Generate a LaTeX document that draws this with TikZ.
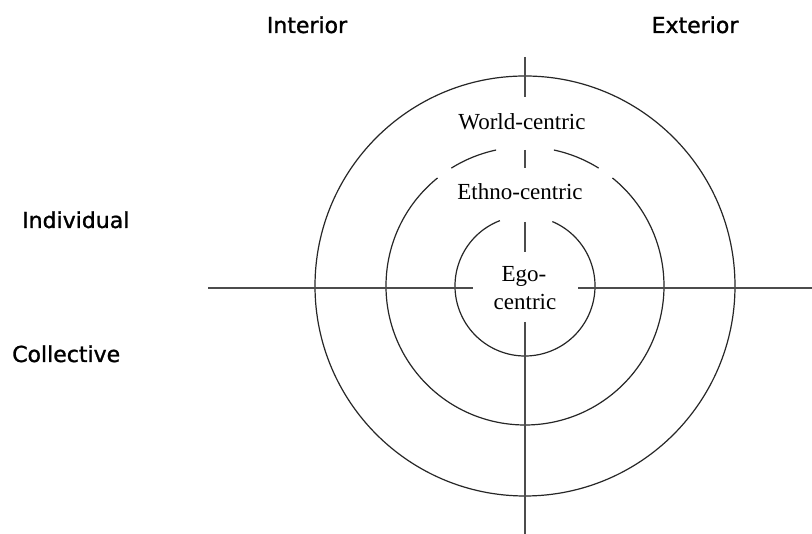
\documentclass[tikz,border=0pt]{standalone}
\usepackage{fontspec}
\setmainfont{Liberation Serif}
\newfontfamily\labelfont[FakeBold=1.2]{DejaVu Sans}
\tikzset{
  ring/.style={draw=black!85, line width=1.2pt},
  axis/.style={draw=black!70, line width=1.2pt},
  serifl/.style={font=\fontsize{23}{26}\selectfont, inner sep=0pt, anchor=base},
  sansl/.style={font=\labelfont\fontsize{22}{26}\selectfont, inner sep=0pt},
}
\begin{document}
\begin{tikzpicture}[x=1pt,y=1pt]
\useasboundingbox (0,0) rectangle (812,534);
\fill[white] (0,0) rectangle (812,534);
\coordinate (c) at (525,248);
% outer circle
\draw[ring] (c) circle[radius=210pt];
% middle circle with gaps at the top
\draw[ring] ([shift={(129:139pt)}]c) arc[start angle=129, end angle=411, radius=139pt];
\draw[ring] ([shift={(58:139pt)}]c) arc[start angle=58, end angle=78, radius=139pt];
\draw[ring] ([shift={(102:139pt)}]c) arc[start angle=102, end angle=122, radius=139pt];
% inner circle with gap at the top
\draw[ring] ([shift={(111:70pt)}]c) arc[start angle=111, end angle=427, radius=70pt];
% axes
\coordinate (v0) at (525,477);
\coordinate (v1) at (525,437);
\coordinate (v2) at (525,384);
\coordinate (v3) at (525,366);
\coordinate (v4) at (525,312);
\coordinate (v5) at (525,282);
\coordinate (v6) at (525,212);
\coordinate (v7) at (525,0);
\draw[axis] (v0) -- (v1);
\draw[axis] (v2) -- (v3);
\draw[axis] (v4) -- (v5);
\draw[axis] (v6) -- (v7);
\coordinate (h0) at (208,246);
\coordinate (h1) at (473,246);
\coordinate (h2) at (578,246);
\coordinate (h3) at (812,246);
\draw[axis] (h0) -- (h1);
\draw[axis] (h2) -- (h3);
% circle labels
\node[serifl] (world) at (522,404) {World-centric};
\node[serifl] (ethno) at (520,334) {Ethno-centric};
\node[serifl] (ego) at (524,252) {Ego-};
\node[serifl] (centric) at (525,224) {centric};
% quadrant labels
\node[sansl, anchor=base] (interior) at (307,501) {Interior};
\node[sansl, anchor=base] (exterior) at (695,501) {Exterior};
\node[sansl, anchor=base west] (individual) at (22,306) {Individual};
\node[sansl, anchor=base west] (collective) at (12,172) {Collective};
\end{tikzpicture}
\end{document}
